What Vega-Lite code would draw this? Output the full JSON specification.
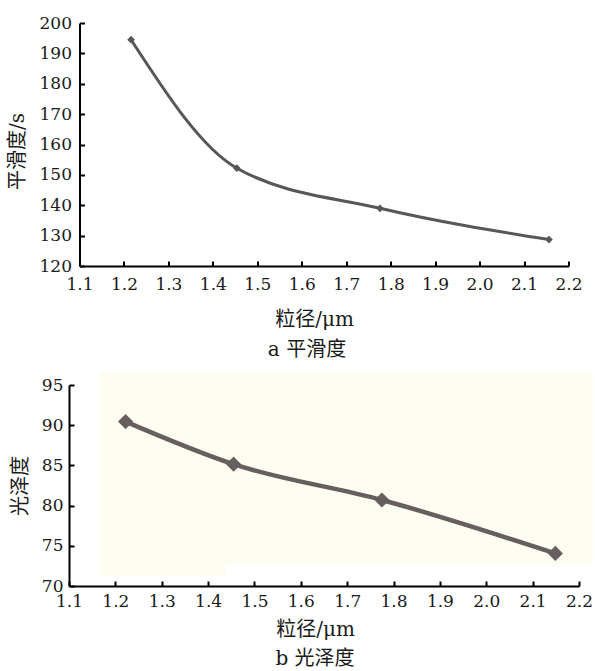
{
  "$schema": "https://vega.github.io/schema/vega-lite/v6.json",
  "padding": {"left": 7, "top": 14, "right": 0, "bottom": 0},
  "background": "white",
  "bounds": "flush",
  "center": true,
  "spacing": 119,
  "config": {
    "view": {"stroke": null},
    "axis": {
      "domainColor": "#000000",
      "domainWidth": 2,
      "tickColor": "#000000",
      "tickWidth": 2,
      "tickSize": -5,
      "grid": false,
      "labelFont": "DejaVu Serif",
      "labelFontSize": 17,
      "labelColor": "#1a1a1a",
      "labelOverlap": false,
      "labelFlush": false,
      "titleFont": "DejaVu Serif, Noto Sans CJK SC",
      "titleFontSize": 20,
      "titleFontWeight": "normal",
      "titleColor": "#1a1a1a"
    },
    "title": {
      "font": "DejaVu Serif, Noto Sans CJK SC",
      "fontSize": 20,
      "fontWeight": "normal",
      "color": "#1a1a1a"
    }
  },
  "datasets": {
    "smooth": [
      {"size": 1.216, "value": 194.5},
      {"size": 1.454, "value": 152.2},
      {"size": 1.776, "value": 139.0},
      {"size": 2.156, "value": 128.7}
    ],
    "gloss": [
      {"size": 1.222, "value": 90.45},
      {"size": 1.455, "value": 85.15},
      {"size": 1.775, "value": 80.7},
      {"size": 2.149, "value": 74.05}
    ],
    "bg": [
      {"x": 1.165, "x2": 1.44, "y": 71.2, "y2": 96.6},
      {"x": 1.44, "x2": 2.23, "y": 72.6, "y2": 96.6}
    ]
  },
  "vconcat": [
    {
      "width": 489,
      "height": 243,
      "title": {"text": "a 平滑度", "orient": "bottom", "anchor": "middle", "frame": "group", "offset": 11, "dx": -17},
      "data": {"name": "smooth"},
      "encoding": {
        "x": {
          "field": "size", "type": "quantitative",
          "scale": {"domain": [1.1, 2.2], "nice": false, "zero": false},
          "axis": {
            "title": "粒径/μm",
            "values": [1.1, 1.2, 1.3, 1.4, 1.5, 1.6, 1.7, 1.8, 1.9, 2.0, 2.1, 2.2],
            "format": ".1f",
            "labelPadding": 15,
            "titleX": 234.5,
            "titleY": 53,
            "titleBaseline": "middle"
          }
        },
        "y": {
          "field": "value", "type": "quantitative",
          "scale": {"domain": [120, 200], "nice": false, "zero": false},
          "axis": {
            "title": "平滑度/s",
            "values": [120, 130, 140, 150, 160, 170, 180, 190, 200],
            "labelPadding": 13,
            "titleX": -62,
            "titleY": 128,
            "titleBaseline": "middle"
          }
        }
      },
      "layer": [
        {"mark": {"type": "line", "interpolate": "monotone", "color": "#5a5657", "strokeWidth": 3}},
        {"mark": {"type": "point", "shape": "diamond", "filled": true, "size": 60, "color": "#5a5657", "opacity": 1}}
      ]
    },
    {
      "width": 510,
      "height": 201,
      "title": {"text": "b 光泽度", "orient": "bottom", "anchor": "middle", "frame": "group", "offset": 10, "dx": -9},
      "layer": [
        {
          "data": {"name": "bg"},
          "mark": {"type": "rect", "color": "#fdfdf1"},
          "encoding": {
            "x": {"field": "x", "type": "quantitative"},
            "x2": {"field": "x2"},
            "y": {"field": "y", "type": "quantitative"},
            "y2": {"field": "y2"}
          }
        },
        {
          "data": {"name": "gloss"},
          "mark": {"type": "line", "interpolate": "monotone", "color": "#675e5f", "strokeWidth": 4.5},
          "encoding": {
            "x": {"field": "size", "type": "quantitative"},
            "y": {"field": "value", "type": "quantitative"}
          }
        },
        {
          "data": {"name": "gloss"},
          "mark": {"type": "point", "shape": "diamond", "filled": true, "size": 230, "color": "#675e5f", "opacity": 1},
          "encoding": {
            "x": {"field": "size", "type": "quantitative"},
            "y": {"field": "value", "type": "quantitative"}
          }
        }
      ],
      "encoding": {
        "x": {
          "type": "quantitative",
          "scale": {"domain": [1.1, 2.2], "nice": false, "zero": false},
          "axis": {
            "title": "粒径/μm",
            "values": [1.1, 1.2, 1.3, 1.4, 1.5, 1.6, 1.7, 1.8, 1.9, 2.0, 2.1, 2.2],
            "format": ".1f",
            "labelPadding": 12,
            "titleX": 246,
            "titleY": 43,
            "titleBaseline": "middle"
          }
        },
        "y": {
          "type": "quantitative",
          "scale": {"domain": [70, 95], "nice": false, "zero": false},
          "axis": {
            "title": "光泽度",
            "values": [70, 75, 80, 85, 90, 95],
            "labelPadding": 11,
            "titleX": -48.5,
            "titleBaseline": "middle"
          }
        }
      }
    }
  ]
}
